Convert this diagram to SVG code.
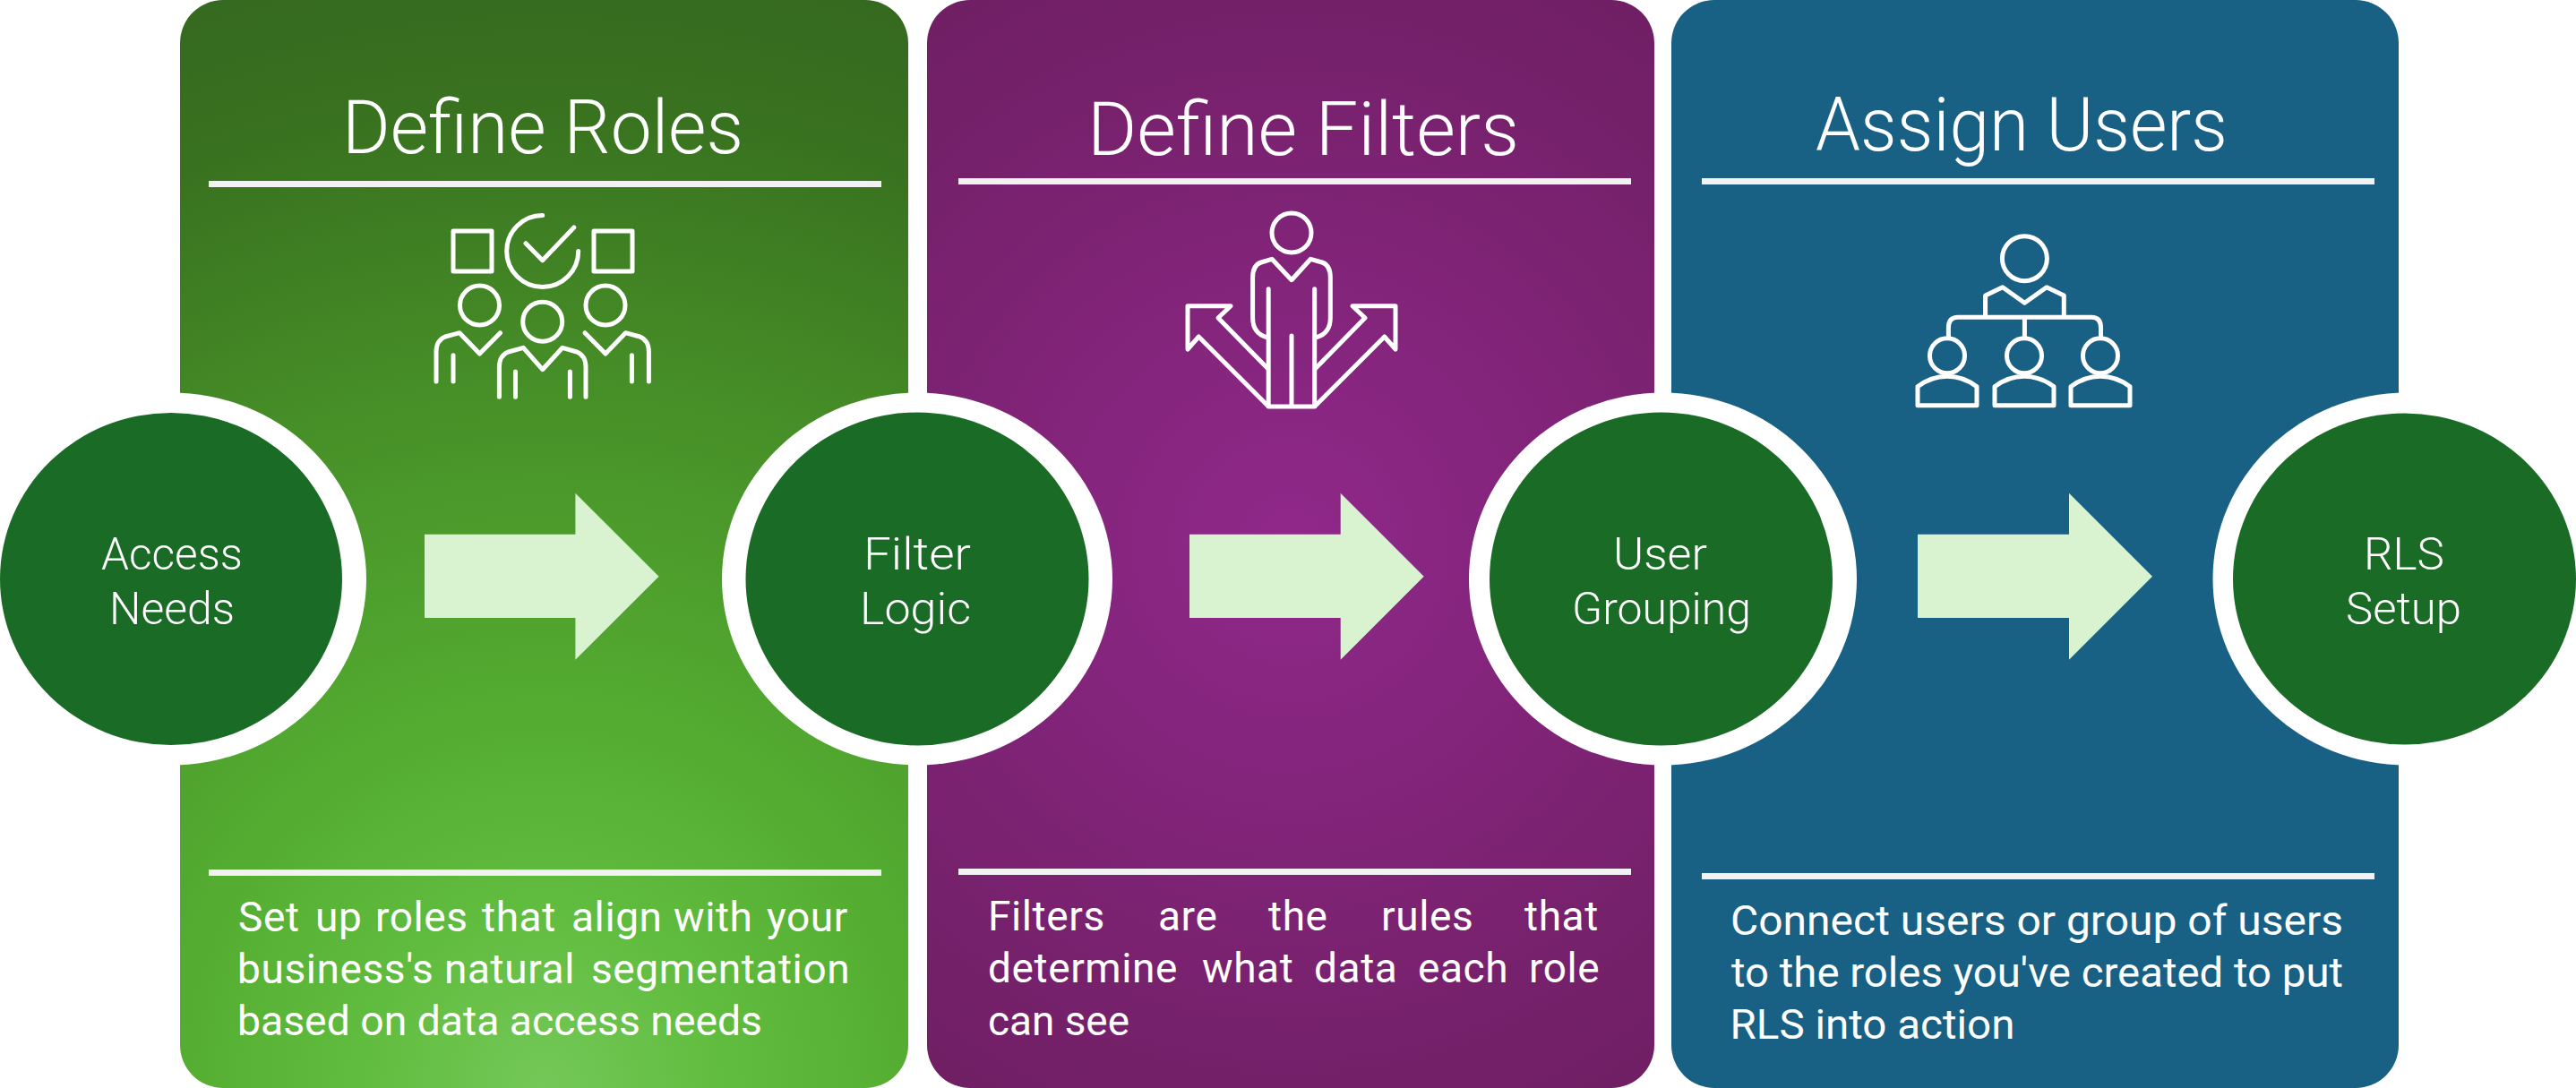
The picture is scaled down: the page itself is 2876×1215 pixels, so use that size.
<svg xmlns="http://www.w3.org/2000/svg" width="2876" height="1215" viewBox="0 0 2876 1215">
<style>
text{font-family:"Roboto","Liberation Sans",sans-serif;font-weight:300;fill:#fff}
.t{font-size:84px}
.b{font-size:46px;font-weight:400}
.j{letter-spacing:.6px}
.c{font-size:50px;text-anchor:start}
.r{fill:#f2f2f2}
.i{fill:none;stroke:#fff;stroke-width:5;stroke-linejoin:round;stroke-linecap:round}
.ring{fill:#fff}
.dot{fill:#1a6b25}
.a{fill:#d9f2d0}
</style>
<defs>
<radialGradient id="g1" gradientUnits="userSpaceOnUse" cx="607" cy="1215" r="1290">
<stop offset="0" stop-color="#74c858"/><stop offset=".16" stop-color="#60bc3e"/><stop offset=".32" stop-color="#54ad31"/><stop offset=".6" stop-color="#479028"/><stop offset=".85" stop-color="#39721f"/><stop offset="1" stop-color="#346820"/>
</radialGradient>
<radialGradient id="g2" gradientUnits="userSpaceOnUse" cx="1441" cy="607" r="860">
<stop offset="0" stop-color="#90288a"/><stop offset=".72" stop-color="#732068"/><stop offset="1" stop-color="#6c1e60"/>
</radialGradient>
<g id="sp"><circle cx="0" cy="0" r="19.5" class="i"/><path class="i" d="M-33 55.5V34.5Q-18 23 0 23Q18 23 33 34.5V55.5Z"/></g>
</defs>

<g id="panel-define-roles">
<rect x="201" y="0" width="813" height="1215" rx="48" fill="url(#g1)"/>
<text class="t" x="382" y="171" textLength="448" lengthAdjust="spacingAndGlyphs">Define Roles</text>
<rect class="r" x="233" y="202" width="751" height="7"/>
<g id="icon-roles">
<rect class="i" x="506" y="258" width="43" height="45"/>
<rect class="i" x="663" y="258" width="43" height="45"/>
<path class="i" d="M605.7 240.5A40 40 0 1 0 645.7 280.5"/>
<path class="i" d="M587 271.7L605.7 290.7L640.8 254"/>
<circle class="i" cx="535.5" cy="341" r="22"/><circle class="i" cx="605.7" cy="359.3" r="22"/><circle class="i" cx="676" cy="341" r="22"/>
<path class="i" d="M487 426V393Q487 380 497 376L513 371.7L535.5 395L558.5 371.7"/>
<path class="i" d="M506 396.7V426"/>
<path class="i" d="M724.4 426V393Q724.4 380 714.4 376L698.4 371.7L676 395L653 371.7"/>
<path class="i" d="M705.4 396.7V426"/>
<path class="i" d="M557.4 443.3V410Q557.4 397 567.4 393L584.3 388.3L605.7 412.7L628 388.3L644 393Q654 397 654 410V443.3"/>
<path class="i" d="M575.5 415V443.3M636.4 415V443.3"/>
</g>
<rect class="r" x="233" y="971" width="751" height="7"/>
<text class="b j" y="1040"><tspan x="266">Set</tspan><tspan x="352">up</tspan><tspan x="419">roles</tspan><tspan x="538">that</tspan><tspan x="638">align</tspan><tspan x="752">with</tspan><tspan x="856">your</tspan></text>
<text class="b j" y="1098"><tspan x="265">business's</tspan><tspan x="496">natural</tspan><tspan x="660">segmentation</tspan></text>
<text class="b" x="265" y="1156" textLength="586" lengthAdjust="spacingAndGlyphs">based on data access needs</text>
</g>

<g id="panel-define-filters">
<rect x="1035" y="0" width="812" height="1215" rx="48" fill="url(#g2)"/>
<text class="t" x="1214" y="172.5" textLength="482" lengthAdjust="spacingAndGlyphs">Define Filters</text>
<rect class="r" x="1070" y="199" width="751" height="7"/>
<g id="icon-filters">
<circle class="i" cx="1442" cy="260" r="22"/>
<path class="i" d="M1414 376.7Q1398.6 372 1398.6 355V310Q1398.6 296 1408 293L1420 289.3L1442 312.7L1463.3 289.3L1476 293Q1485.3 296 1485.3 310V355Q1485.3 372 1470 376.7"/>
<path class="i" d="M1416.2 322.7V454H1467.7V322.7M1442 375V454"/>
<path class="i" d="M1415.6 453.3L1338.3 376L1326 390V341.7H1374L1360 355L1415.6 411.7"/>
<path class="i" d="M1468.4 453.3L1545.7 376L1558 390V341.7H1510L1524 355L1468.4 411.7"/>
</g>
<rect class="r" x="1070" y="970" width="751" height="7"/>
<text class="b j" y="1039"><tspan x="1103">Filters</tspan><tspan x="1293">are</tspan><tspan x="1416">the</tspan><tspan x="1542">rules</tspan><tspan x="1702">that</tspan></text>
<text class="b j" y="1097"><tspan x="1103">determine</tspan><tspan x="1342">what</tspan><tspan x="1467">data</tspan><tspan x="1583">each</tspan><tspan x="1707">role</tspan></text>
<text class="b" x="1103" y="1156" textLength="158" lengthAdjust="spacingAndGlyphs">can see</text>
</g>

<g id="panel-assign-users">
<rect x="1866" y="0" width="812" height="1215" rx="48" fill="#186184"/>
<text class="t" x="2027" y="168" textLength="460" lengthAdjust="spacingAndGlyphs">Assign Users</text>
<rect class="r" x="1900" y="199" width="751" height="7"/>
<g id="icon-users">
<circle class="i" cx="2260.4" cy="288.7" r="25"/>
<path class="i" d="M2216.6 353.3V330L2235.8 320.7L2260.4 338.3L2285 320.7L2304.3 330V353.3"/>
<path class="i" d="M2175.4 376.7V366Q2175.4 354.3 2186 354.3H2335Q2345.5 354.3 2345.5 366V376.7M2260.4 354.3V376.7"/>
<use href="#sp" x="2174" y="397.3"/><use href="#sp" x="2260" y="397.3"/><use href="#sp" x="2345" y="397.3"/>
</g>
<rect class="r" x="1900" y="975" width="751" height="7"/>
<text class="b" x="1932" y="1044" textLength="684" lengthAdjust="spacingAndGlyphs">Connect users or group of users</text>
<text class="b" x="1933" y="1102" textLength="683" lengthAdjust="spacingAndGlyphs">to the roles you've created to put</text>
<text class="b" x="1931.5" y="1160" textLength="318" lengthAdjust="spacingAndGlyphs">RLS into action</text>
</g>

<g id="node-access-needs">
<ellipse class="ring" cx="191" cy="646.5" rx="218" ry="208"/>
<ellipse class="dot" cx="191" cy="646.5" rx="191" ry="185.5"/>
<text class="c" x="113" y="636" textLength="158" lengthAdjust="spacingAndGlyphs">Access</text>
<text class="c" x="122" y="696.5" textLength="140" lengthAdjust="spacingAndGlyphs">Needs</text>
</g>
<g id="node-filter-logic">
<ellipse class="ring" cx="1024" cy="646.5" rx="218" ry="208"/>
<ellipse class="dot" cx="1024" cy="646.5" rx="191.5" ry="186"/>
<text class="c" x="964" y="636" textLength="120" lengthAdjust="spacingAndGlyphs">Filter</text>
<text class="c" x="960" y="696.5" textLength="124" lengthAdjust="spacingAndGlyphs">Logic</text>
</g>
<g id="node-user-grouping">
<ellipse class="ring" cx="1856.5" cy="646.5" rx="216.5" ry="208"/>
<ellipse class="dot" cx="1854.5" cy="646.5" rx="191.5" ry="186"/>
<text class="c" x="1801" y="636" textLength="105" lengthAdjust="spacingAndGlyphs">User</text>
<text class="c" x="1755" y="696.5" textLength="200" lengthAdjust="spacingAndGlyphs">Grouping</text>
</g>
<g id="node-rls-setup">
<ellipse class="ring" cx="2687" cy="646.5" rx="216.5" ry="208"/>
<ellipse class="dot" cx="2684.5" cy="646.5" rx="191.5" ry="185"/>
<text class="c" x="2639" y="636" textLength="90" lengthAdjust="spacingAndGlyphs">RLS</text>
<text class="c" x="2619" y="696.5" textLength="129" lengthAdjust="spacingAndGlyphs">Setup</text>
</g>

<g id="connectors">
<path class="a" d="M474 596.7H642.4V550.7L735.6 643.7L642.4 736.7V690H474Z"/>
<path class="a" d="M1328 596.7H1496.7V550.7L1589.7 643.7L1496.7 736.7V690H1328Z"/>
<path class="a" d="M2141 596.7H2310V550.7L2403 643.7L2310 736.7V690H2141Z"/>
</g>
</svg>
